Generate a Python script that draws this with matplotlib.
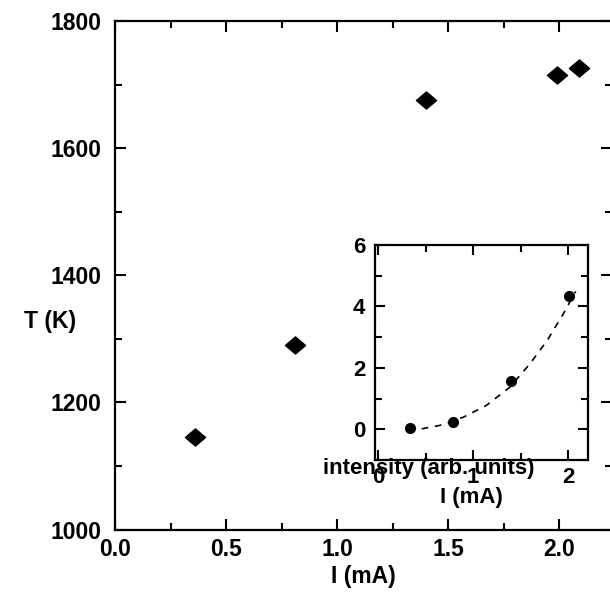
import numpy as np
import matplotlib
matplotlib.use("Agg")
import matplotlib.pyplot as plt
from matplotlib.path import Path
from matplotlib.ticker import MultipleLocator, FormatStrFormatter

plt.rcParams['font.family'] = ['Liberation Sans', 'DejaVu Sans']
plt.rcParams['font.weight'] = 'bold'
plt.rcParams['axes.labelweight'] = 'bold'

# main data: temperature vs current
current = [0.36, 0.81, 1.40, 1.99, 2.09]
temp = [1146, 1291, 1676, 1715, 1726]

# inset data: intensity vs current
ins_current = [0.34, 0.79, 1.40, 2.01]
ins_intensity = [0.05, 0.23, 1.57, 4.33]

# dashed guide curve
curve_x = [0.46, 0.65, 0.90, 1.14, 1.39, 1.60, 1.78, 1.95, 2.08]
curve_y = [0.02, 0.13, 0.40, 0.78, 1.38, 2.14, 2.89, 3.76, 4.49]

# flat diamond marker
diamond = Path([(-1, 0), (0, 0.85), (1, 0), (0, -0.85), (-1, 0)],
               [Path.MOVETO, Path.LINETO, Path.LINETO, Path.LINETO, Path.CLOSEPOLY])

fig = plt.figure(figsize=(6.10, 5.93), dpi=100)
ax = fig.add_axes([0.189, 0.107, 0.815, 0.857])
ax.plot(current, temp, linestyle='none', marker=diamond, markersize=14.5, color='black')
ax.set_xlim(0, 2.24)
ax.set_ylim(1000, 1800)
ax.xaxis.set_major_locator(MultipleLocator(0.5))
ax.xaxis.set_minor_locator(MultipleLocator(0.25))
ax.yaxis.set_major_locator(MultipleLocator(200))
ax.yaxis.set_minor_locator(MultipleLocator(100))
ax.xaxis.set_major_formatter(FormatStrFormatter('%.1f'))
ax.tick_params(which='both', direction='in', top=True, right=True, width=1.5, labelsize=16.5)
ax.tick_params(which='major', length=8)
ax.tick_params(which='minor', length=5)
ax.tick_params(axis='y', pad=10)
ax.tick_params(axis='x', pad=6)
for s in ax.spines.values():
    s.set_linewidth(1.6)
ax.set_xlabel("I (mA)", fontsize=16.5, labelpad=3)
ax.set_ylabel("T (K)", fontsize=16.5, rotation=0, va='center', ha='center')
ax.yaxis.set_label_coords(-0.132, 0.41)

# inset
axi = fig.add_axes([0.615, 0.224, 0.349, 0.363])
axi.plot(curve_x, curve_y, linestyle=(0, (4, 4)), color='black', linewidth=1.2)
axi.plot(ins_current, ins_intensity, 'o', color='black', markersize=7)
axi.set_xlim(-0.03, 2.21)
axi.set_ylim(-1, 6)
axi.xaxis.set_major_locator(MultipleLocator(1))
axi.xaxis.set_minor_locator(MultipleLocator(0.5))
axi.yaxis.set_major_locator(MultipleLocator(2))
axi.yaxis.set_minor_locator(MultipleLocator(1))
axi.tick_params(which='both', direction='in', top=True, right=True, width=1.5, labelsize=16)
axi.tick_params(which='major', length=7)
axi.tick_params(which='minor', length=5)
axi.tick_params(axis='y', pad=7)
axi.tick_params(axis='x', pad=5)
for s in axi.spines.values():
    s.set_linewidth(1.6)
axi.text(0.25, -0.04, "intensity (arb. units)", transform=axi.transAxes,
         ha='center', va='center', fontsize=16)
axi.text(0.45, -0.172, "I (mA)", transform=axi.transAxes,
         ha='center', va='center', fontsize=16)

fig.savefig("out.png", dpi=100)
